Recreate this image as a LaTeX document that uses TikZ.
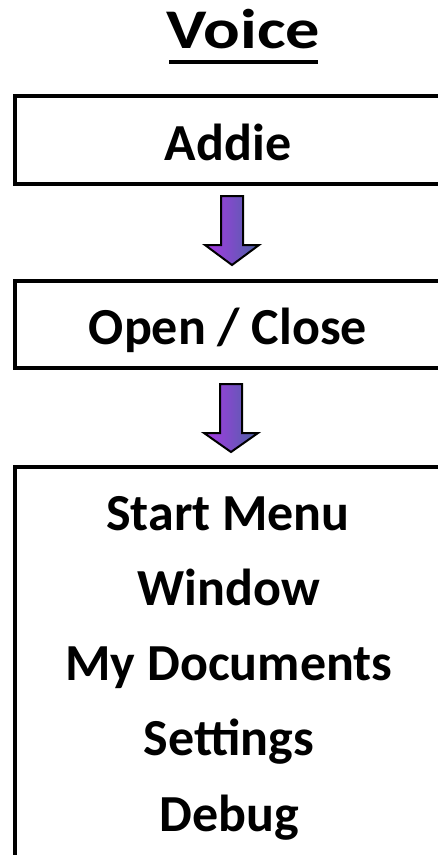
\documentclass[tikz,border=0pt]{standalone}
\usepackage{fontspec}
\setmainfont{Carlito}
\usetikzlibrary{calc}
\definecolor{arrowL}{RGB}{170,55,230}
\definecolor{arrowR}{RGB}{75,100,165}
\tikzset{
  boxframe/.style={draw=black, line width=4pt, fill=white, inner sep=0pt},
  boxtext/.style={anchor=base, inner sep=0pt, font=\bfseries\fontsize{52}{60}\selectfont},
  titletext/.style={anchor=base, inner sep=0pt, font=\bfseries\fontsize{56}{64}\selectfont},
  blockarrow/.style={draw=black, line width=2pt, line join=miter, left color=arrowL, right color=arrowR},
}
\newcommand{\myblockarrow}[3]{% x, top y, tip y
  \path[blockarrow] (#1-11,#2) -- (#1+11,#2) -- (#1+11,#2+49) -- (#1+27,#2+49)
    -- (#1,#3) -- (#1-27,#2+49) -- (#1-11,#2+49) -- cycle;
}
\begin{document}
\begin{tikzpicture}[x=1pt,y=-1pt]
\path[use as bounding box, clip] (0,0) rectangle (438,855);
\fill[white] (0,0) rectangle (438,855);
% title
\node[titletext] (title) at (243.5,48) {\scalebox{1.22}[1]{Voice}};
\draw[line width=4pt] (169,62) -- (318,62);
% boxes
\node[boxframe, minimum width=430.5pt, minimum height=88pt] (b1) at (229.75,140) {};
\node[boxframe, minimum width=430.5pt, minimum height=87.5pt] (b2) at (229.75,324.25) {};
\node[boxframe, minimum width=430.5pt, minimum height=389.5pt] (b3) at (229.75,661.75) {};
% texts
\node[boxtext] (t1) at (228,160) {Addie};
\node[boxtext] (t2) at (228,344) {Open / Close};
\node[boxtext] (t3) at (228,530) {Start Menu};
\node[boxtext] (t4) at (229,605) {Window};
\node[boxtext] (t5) at (229,680) {My Documents};
\node[boxtext] (t6) at (229,755) {Settings};
\node[boxtext] (t7) at (229,831) {Debug};
% arrows
\myblockarrow{232}{196}{265}
\myblockarrow{231}{384}{452}
\end{tikzpicture}
\end{document}
